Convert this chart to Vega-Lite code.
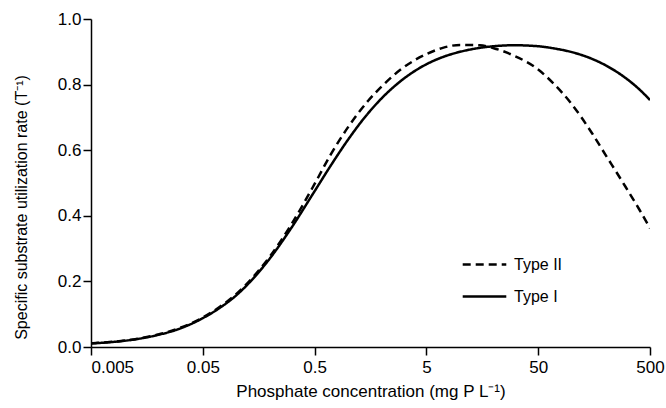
{
  "$schema": "https://vega.github.io/schema/vega-lite/v6.json",
  "width": 559,
  "height": 328,
  "autosize": {"type": "none"},
  "padding": {"left": 91, "top": 19, "right": 16, "bottom": 61},
  "background": "white",
  "config": {
    "view": {"stroke": null},
    "font": "Liberation Sans",
    "axis": {
      "grid": false,
      "domainColor": "black",
      "domainWidth": 1.5,
      "tickColor": "black",
      "tickWidth": 1.5,
      "tickSize": 8,
      "labelColor": "black",
      "labelFont": "Liberation Sans",
      "labelFontSize": 17,
      "titleColor": "black",
      "titleFont": "Liberation Sans",
      "titleFontSize": 17,
      "titleFontWeight": "normal"
    },
    "legend": {
      "labelFont": "Liberation Sans",
      "labelFontSize": 16,
      "labelColor": "black"
    }
  },
  "data": {
    "values": [
      {"x": 0.005, "y": 0.011, "type": "Type I"},
      {"x": 0.007, "y": 0.014, "type": "Type I"},
      {"x": 0.01, "y": 0.019, "type": "Type I"},
      {"x": 0.015, "y": 0.028, "type": "Type I"},
      {"x": 0.02, "y": 0.037, "type": "Type I"},
      {"x": 0.03, "y": 0.054, "type": "Type I"},
      {"x": 0.05, "y": 0.088, "type": "Type I"},
      {"x": 0.07, "y": 0.118, "type": "Type I"},
      {"x": 0.1, "y": 0.158, "type": "Type I"},
      {"x": 0.15, "y": 0.219, "type": "Type I"},
      {"x": 0.2, "y": 0.271, "type": "Type I"},
      {"x": 0.3, "y": 0.356, "type": "Type I"},
      {"x": 0.5, "y": 0.475, "type": "Type I"},
      {"x": 0.7, "y": 0.554, "type": "Type I"},
      {"x": 1, "y": 0.633, "type": "Type I"},
      {"x": 1.5, "y": 0.712, "type": "Type I"},
      {"x": 2, "y": 0.759, "type": "Type I"},
      {"x": 3, "y": 0.813, "type": "Type I"},
      {"x": 5, "y": 0.862, "type": "Type I"},
      {"x": 7, "y": 0.884, "type": "Type I"},
      {"x": 10, "y": 0.9, "type": "Type I"},
      {"x": 15, "y": 0.912, "type": "Type I"},
      {"x": 20, "y": 0.917, "type": "Type I"},
      {"x": 30, "y": 0.92, "type": "Type I"},
      {"x": 50, "y": 0.917, "type": "Type I"},
      {"x": 70, "y": 0.91, "type": "Type I"},
      {"x": 100, "y": 0.899, "type": "Type I"},
      {"x": 150, "y": 0.879, "type": "Type I"},
      {"x": 200, "y": 0.859, "type": "Type I"},
      {"x": 300, "y": 0.821, "type": "Type I"},
      {"x": 400, "y": 0.786, "type": "Type I"},
      {"x": 500, "y": 0.753, "type": "Type I"},
      {"x": 0.005, "y": 0.011, "type": "Type II"},
      {"x": 0.007, "y": 0.0145, "type": "Type II"},
      {"x": 0.01, "y": 0.0195, "type": "Type II"},
      {"x": 0.015, "y": 0.029, "type": "Type II"},
      {"x": 0.02, "y": 0.038, "type": "Type II"},
      {"x": 0.03, "y": 0.056, "type": "Type II"},
      {"x": 0.05, "y": 0.09, "type": "Type II"},
      {"x": 0.07, "y": 0.121, "type": "Type II"},
      {"x": 0.1, "y": 0.162, "type": "Type II"},
      {"x": 0.15, "y": 0.224, "type": "Type II"},
      {"x": 0.2, "y": 0.277, "type": "Type II"},
      {"x": 0.3, "y": 0.366, "type": "Type II"},
      {"x": 0.5, "y": 0.497, "type": "Type II"},
      {"x": 0.7, "y": 0.588, "type": "Type II"},
      {"x": 1, "y": 0.671, "type": "Type II"},
      {"x": 1.5, "y": 0.75, "type": "Type II"},
      {"x": 2, "y": 0.795, "type": "Type II"},
      {"x": 3, "y": 0.848, "type": "Type II"},
      {"x": 5, "y": 0.893, "type": "Type II"},
      {"x": 7, "y": 0.912, "type": "Type II"},
      {"x": 10, "y": 0.921, "type": "Type II"},
      {"x": 15, "y": 0.92, "type": "Type II"},
      {"x": 20, "y": 0.911, "type": "Type II"},
      {"x": 30, "y": 0.889, "type": "Type II"},
      {"x": 50, "y": 0.846, "type": "Type II"},
      {"x": 70, "y": 0.8, "type": "Type II"},
      {"x": 100, "y": 0.74, "type": "Type II"},
      {"x": 150, "y": 0.654, "type": "Type II"},
      {"x": 200, "y": 0.586, "type": "Type II"},
      {"x": 300, "y": 0.49, "type": "Type II"},
      {"x": 400, "y": 0.42, "type": "Type II"},
      {"x": 500, "y": 0.362, "type": "Type II"}
    ]
  },
  "mark": {"type": "line", "color": "black", "strokeWidth": 2.5, "interpolate": "monotone", "clip": true},
  "encoding": {
    "x": {
      "field": "x",
      "type": "quantitative",
      "scale": {"type": "log", "domain": [0.005, 500], "nice": false},
      "axis": {
        "title": "Phosphate concentration (mg P L⁻¹)",
        "values": [0.005, 0.05, 0.5, 5, 50, 500],
        "format": "~g",
        "labelPadding": 4,
        "labelAlign": {"expr": "datum.value < 0.01 ? 'left' : 'center'"},
        "labelFlush": false,
        "titlePadding": 8
      }
    },
    "y": {
      "field": "y",
      "type": "quantitative",
      "scale": {"domain": [0, 1], "nice": false},
      "axis": {
        "title": "Specific substrate utilization rate  (T⁻¹)",
        "titleFontSize": 16,
        "values": [0, 0.2, 0.4, 0.6, 0.8, 1.0],
        "format": ".1f",
        "labelPadding": 2,
        "titleX": -70,
        "titleY": 188,
        "titleAlign": "center",
        "titleAngle": -90,
        "titleBaseline": "middle"
      }
    },
    "strokeDash": {
      "field": "type",
      "type": "nominal",
      "scale": {"domain": ["Type II", "Type I"], "range": [[8, 5], [1, 0]]},
      "legend": {
        "title": null,
        "orient": "none",
        "legendX": 370,
        "legendY": 222,
        "symbolType": "stroke",
        "symbolSize": 1900,
        "symbolStrokeWidth": 2.5,
        "symbolStrokeColor": "black",
        "labelOffset": 6,
        "rowPadding": -8
      }
    }
  }
}
